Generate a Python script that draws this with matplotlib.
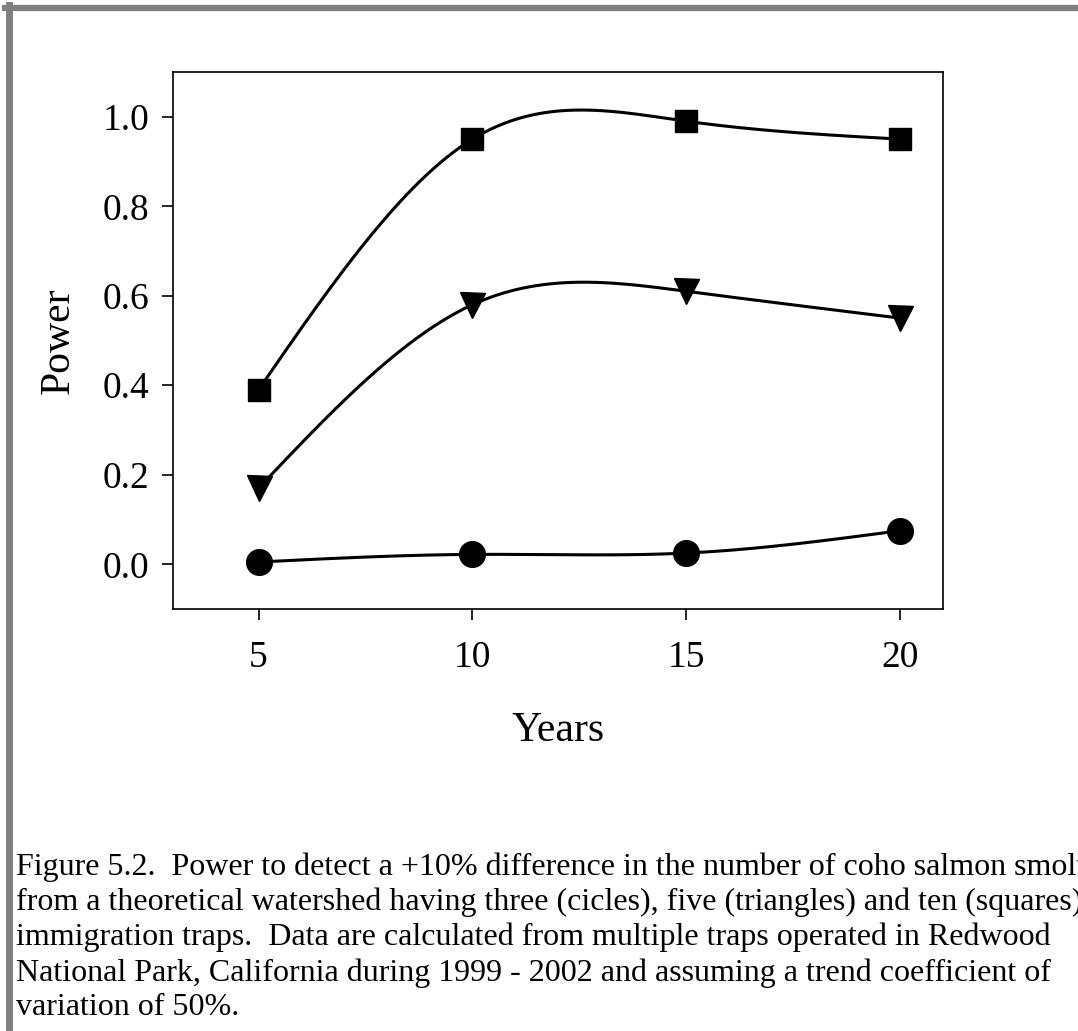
import numpy as np
import matplotlib.pyplot as plt
from matplotlib.lines import Line2D

years = [5, 10, 15, 20]
power_ten = [0.39, 0.95, 0.99, 0.95]     # squares
power_five = [0.17, 0.58, 0.61, 0.55]    # triangles
power_three = [0.005, 0.022, 0.025, 0.075]  # circles

caption = ("Figure 5.2.  Power to detect a +10% difference in the number of coho salmon smolts\n"
           "from a theoretical watershed having three (cicles), five (triangles) and ten (squares)\n"
           "immigration traps.  Data are calculated from multiple traps operated in Redwood\n"
           "National Park, California during 1999 - 2002 and assuming a trend coefficient of\n"
           "variation of 50%.")


def natural_spline(x, y, n=200):
    x = np.asarray(x, float)
    y = np.asarray(y, float)
    k = len(x)
    h = np.diff(x)
    A = np.zeros((k, k))
    b = np.zeros(k)
    A[0, 0] = A[-1, -1] = 1
    for i in range(1, k - 1):
        A[i, i - 1] = h[i - 1]
        A[i, i] = 2 * (h[i - 1] + h[i])
        A[i, i + 1] = h[i]
        b[i] = 6 * ((y[i + 1] - y[i]) / h[i] - (y[i] - y[i - 1]) / h[i - 1])
    m = np.linalg.solve(A, b)
    xs = np.linspace(x[0], x[-1], n)
    ys = np.empty_like(xs)
    for j, t in enumerate(xs):
        i = min(np.searchsorted(x, t, side='right') - 1, k - 2)
        a = x[i + 1] - t
        c = t - x[i]
        ys[j] = (m[i] * a**3 + m[i + 1] * c**3) / (6 * h[i]) \
            + (y[i] / h[i] - m[i] * h[i] / 6) * a + (y[i + 1] / h[i] - m[i + 1] * h[i] / 6) * c
    return xs, ys


plt.rcParams['font.family'] = ['Liberation Serif', 'DejaVu Serif']

fig = plt.figure(figsize=(10.78, 10.31), dpi=100)
ax = fig.add_axes([173 / 1078, 1 - 609 / 1031, (943 - 173) / 1078, (609 - 72) / 1031])

for vals, mk, ms in [(power_ten, 's', 16.5), (power_five, 'v', 18), (power_three, 'o', 18.5)]:
    xs, ys = natural_spline(years, vals)
    ax.plot(xs, ys, color='black', lw=2.2, zorder=2)
    ax.plot(years, vals, linestyle='none', marker=mk, ms=ms, color='black', zorder=3)

ax.set_xlim(3, 21)
ax.set_ylim(-0.1, 1.1)
ax.set_xticks(years)
ax.set_yticks([0.0, 0.2, 0.4, 0.6, 0.8, 1.0])
ax.set_yticklabels(['0.0', '0.2', '0.4', '0.6', '0.8', '1.0'])
ax.tick_params(direction='out', length=8, width=1.2, labelsize=27)
ax.tick_params(axis='x', pad=15)
ax.tick_params(axis='y', pad=9)
for s in ax.spines.values():
    s.set_linewidth(1.2)
ax.set_xlabel('Years', fontsize=30, labelpad=26)
ax.set_ylabel('Power', fontsize=30, labelpad=18)

# grey page frame on top and left
fig.add_artist(Line2D([8.5 / 1078, 8.5 / 1078], [0, 1 - 5 / 1031], color='#808080', lw=5,
                      transform=fig.transFigure))
fig.add_artist(Line2D([5 / 1078, 1], [1 - 8 / 1031, 1 - 8 / 1031], color='#808080', lw=4.5,
                      transform=fig.transFigure))

fig.text(16 / 1078, 1 - 852 / 1031, caption, fontsize=23, va='top', ha='left', linespacing=1.26)

fig.savefig('out.png', dpi=100)
